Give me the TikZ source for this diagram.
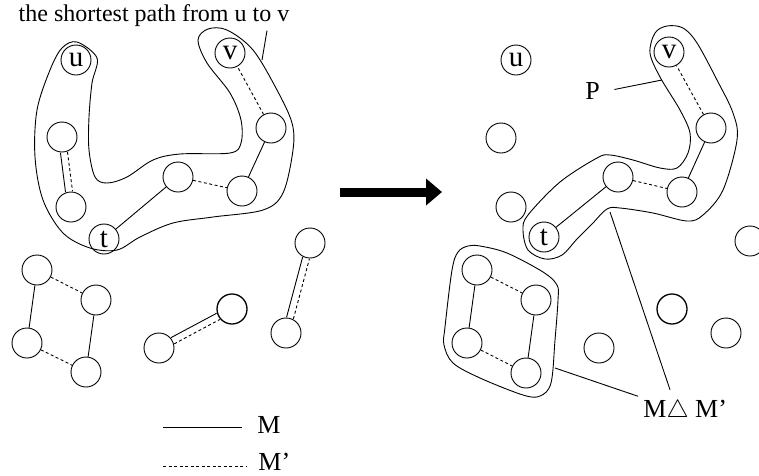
\documentclass[tikz,border=0pt]{standalone}
\usepackage{fontspec}
\setmainfont{Liberation Serif}
\usetikzlibrary{arrows.meta}

\begin{document}
\begin{tikzpicture}[x=1pt, y=-1pt, line width=0.9pt,
    vtx/.style={circle, draw, minimum size=30pt, inner sep=0pt, font=\fontsize{29}{30}\selectfont},
    heavy/.style={line width=1.3pt},
    mline/.style={},
    mpline/.style={dash pattern=on 3pt off 2.5pt},
    hull/.style={smooth cycle, tension=0.55},
    lbl/.style={inner sep=0pt, font=\fontsize{26}{30}\selectfont}]
  \useasboundingbox (0,0) rectangle (759,475);

  % ---- before: M and M'
  \node[anchor=base, inner sep=0pt, font=\fontsize{24}{28}\selectfont] (title) at (154,21) {the shortest path from u to v};
  \foreach \n/\x/\y/\t in {lu/76/60/u, lv/230/53/v, la/62/137/, lb/71/207/, lt/104/239/t,
      lc/178/177/, ld/242/191/, le/271/128/, lq1/37/270/, lq2/96/300/, lq3/27/343/,
      lq4/86/372/, ls1/159/348/, lr1/286/333/, lr2/310/243/}
    \node[vtx] (\n) at (\x,\y) {\t};
  \node[vtx, heavy] (ls2) at (232,309) {};

  \draw[mline] (lt) -- (lc);
  \draw[mpline] (lc) -- (ld);
  \draw[mline] (ld) -- (le);
  \draw[mpline] (le) -- (lv);
  \draw[mline, transform canvas={xshift=-3.5pt, yshift=-0.45pt}] (la) -- (lb);
  \draw[mpline, transform canvas={xshift=3.5pt, yshift=0.45pt}] (la) -- (lb);
  \draw[mline] (lq1) -- (lq3);
  \draw[mline] (lq2) -- (lq4);
  \draw[mpline] (lq1) -- (lq2);
  \draw[mpline] (lq3) -- (lq4);
  \draw[mline, transform canvas={xshift=-1.6pt, yshift=3.1pt}] (ls1) -- (ls2);
  \draw[mpline, transform canvas={xshift=1.6pt, yshift=-3.1pt}] (ls1) -- (ls2);
  \draw[mline, transform canvas={xshift=-3.4pt, yshift=0.9pt}] (lr1) -- (lr2);
  \draw[mpline, transform canvas={xshift=3.4pt, yshift=-0.9pt}] (lr1) -- (lr2);

  % path from u to v
  \draw plot[hull] coordinates {(77,42) (97,58) (92,83) (89,117) (89,150) (95,177)
      (107,183) (127,177) (153,160) (180,154) (230,153) (241,143) (241,120)
      (230,93) (207,63) (198,40) (208,29) (227,30) (253,50) (277,90) (292,123)
      (293,150) (283,193) (263,210) (213,217) (173,223) (140,237) (117,250)
      (90,248) (63,233) (43,200) (35,157) (37,110) (50,70) (62,48)};
  \coordinate (lhull) at (262,60);
  \draw (title.south -| 267,0) ++(0,4) -- (lhull);

  % legend
  \draw[mline] (163,427) -- (242,427);
  \draw[mpline] (163,466) -- (247,466);
  \node[lbl, anchor=base west] (legm) at (257,433) {M};
  \node[lbl, anchor=base west] (legmp) at (258,470) {M'};

  % arrow
  \coordinate (before) at (340,192);
  \coordinate (after) at (442,192);
  \draw[line width=9pt, -{Triangle[length=16pt, width=26pt]}] (before) -- (after);

  % ---- after: symmetric difference
  \foreach \n/\x/\y/\t in {ru/516/60/u, rv/669/52/v, ra/501/138/, rb/511/207/, rt/544/237/t,
      rc/618/177/, rd/682/192/, re/711/128/, rq1/477/270/, rq2/536/300/, rq3/467/343/,
      rq4/526/373/, rs1/599/348/, rs3/726/333/, rx/750/241/}
    \node[vtx] (\n) at (\x,\y) {\t};
  \node[vtx, heavy] (rs2) at (672,309) {};

  \draw[mline] (rt) -- (rc);
  \draw[mpline] (rc) -- (rd);
  \draw[mline] (rd) -- (re);
  \draw[mpline] (re) -- (rv);
  \draw[mline] (rq1) -- (rq3);
  \draw[mline] (rq2) -- (rq4);
  \draw[mpline] (rq1) -- (rq2);
  \draw[mpline] (rq3) -- (rq4);

  \draw plot[hull] coordinates {(667,26) (655,33) (650,53) (660,77) (680,110)
      (690,133) (688,153) (677,168) (660,168) (633,160) (610,155) (597,158)
      (560,182) (528,215) (523,230) (528,250) (545,259) (562,255) (577,239)
      (592,224) (607,209) (620,208) (653,213) (687,221) (703,215) (723,190)
      (737,140) (733,113) (717,80) (697,43) (683,28)};
  \draw plot[hull] coordinates {(480,246) (507,253) (543,272) (557,285) (558,300)
      (555,340) (551,383) (540,396) (523,395) (480,378) (453,363) (444,345)
      (445,327) (452,270) (458,252) (468,246)};

  \node[lbl, anchor=base west] (p) at (585,99) {P};
  \coordinate (phull) at (662,80);
  \draw (p.east) ++(14,-1) -- (phull);

  \node[lbl, anchor=base west] (symd) at (643,417) {M$\triangle$ M'};
  \coordinate (sqhull) at (555,368);
  \coordinate (pathfoot) at (610,212);
  \draw (sqhull) -- ([xshift=-5pt, yshift=3pt]symd.north west);
  \draw[shorten >=10pt] (pathfoot) -- ([xshift=-12pt]symd.north);
\end{tikzpicture}
\end{document}
